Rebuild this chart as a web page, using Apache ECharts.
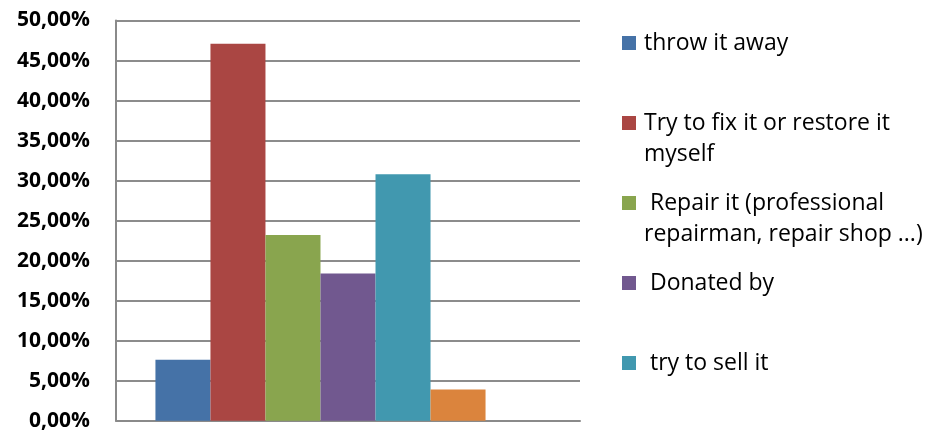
<!DOCTYPE html>
<html>
<head>
<meta charset="utf-8">
<script src="https://cdn.jsdelivr.net/npm/echarts@6/dist/echarts.min.js"></script>
<style>html,body{margin:0;padding:0;background:#fff;}#c{width:931px;height:434px;}</style>
</head>
<body>
<div id="c"></div>
<script>
// Data
var categories = [''];
var seriesNames = ['throw it away', 'Try to fix it or restore it myself', ' Repair it (professional repairman, repair shop ...)', ' Donated by', ' try to sell it', 'Other', 'No answer'];
var seriesValues = [7.6, 47.1, 23.2, 18.4, 30.8, 3.9, null];
var legendLines = [['throw it away'], ['Try to fix it or restore it', 'myself'], [' Repair it (professional', 'repairman, repair shop ...)'], [' Donated by'], [' try to sell it']];
var colors = ['#4572A7', '#AA4643', '#89A54E', '#71588F', '#4198AF', '#DB843D', '#93A9CF'];
var yTicks = {min: 0, max: 50, interval: 5};

var chart = echarts.init(document.getElementById('c'), null, {renderer: 'canvas'});
var series = seriesNames.map(function (n, i) {
  return {
    name: n, type: 'bar', data: [seriesValues[i]],
    barGap: '0%', barCategoryGap: '17%',
    itemStyle: {color: colors[i]}
  };
});

var graphics = [];
var legendTop = [36, 116, 196, 276, 356];
legendLines.forEach(function (lines, i) {
  graphics.push({type: 'rect', left: 622, top: legendTop[i], shape: {width: 14, height: 14}, style: {fill: colors[i]}});
  graphics.push({type: 'text', left: 644, top: legendTop[i] - 8, style: {text: lines.join('\n'), font: '23px "Open Sans"', fill: '#000', lineHeight: 31}});
});

chart.setOption({
  animation: false,
  color: colors,
  grid: {left: 116, right: 351, top: 20.5, bottom: 13.3, containLabel: false},
  xAxis: {
    type: 'category', data: categories,
    axisLine: {show: true, lineStyle: {color: '#8a8a8a', width: 2}},
    axisTick: {show: false}, axisLabel: {show: false}
  },
  yAxis: {
    type: 'value', min: yTicks.min, max: yTicks.max, interval: yTicks.interval,
    axisLine: {show: true, lineStyle: {color: '#8a8a8a', width: 2}},
    axisTick: {show: false},
    splitLine: {lineStyle: {color: '#8c8c8c', width: 2}},
    axisLabel: {
      margin: 26, color: '#000',
      fontFamily: 'Open Sans', fontWeight: 'bold', fontSize: 21,
      formatter: function (v) { return v.toFixed(2).replace('.', ',') + '%'; }
    }
  },
  legend: {show: false},
  graphic: graphics,
  series: series
});
</script>
</body>
</html>
